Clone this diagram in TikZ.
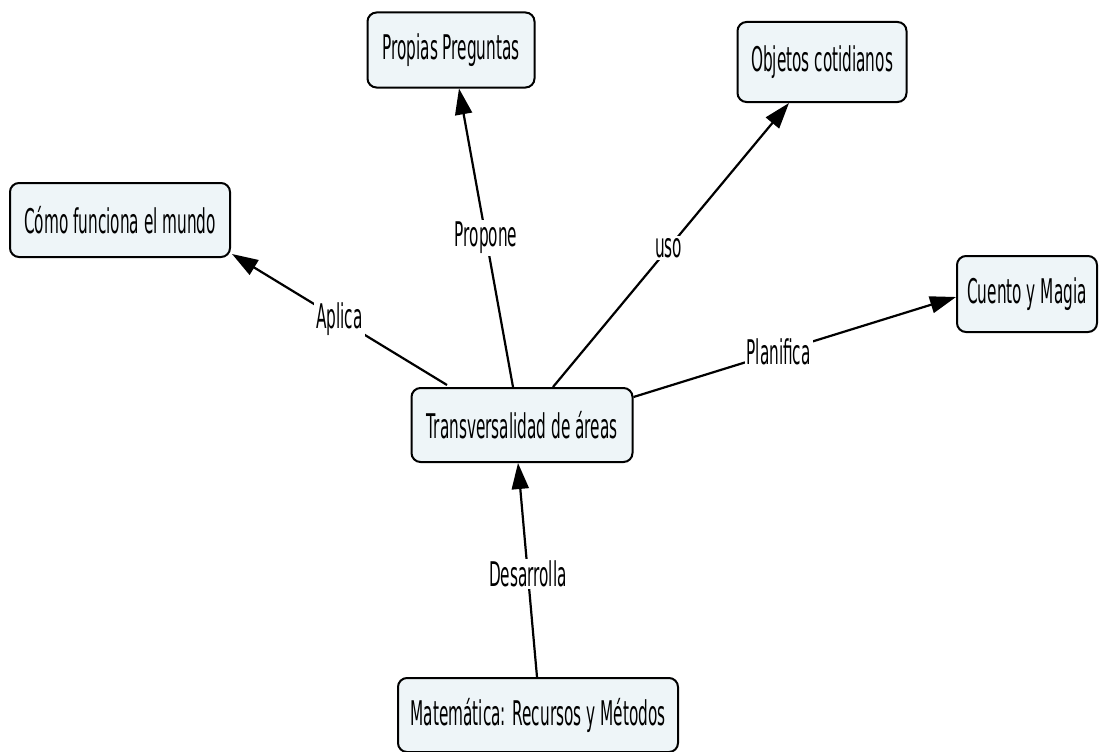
\documentclass[tikz,border=0pt]{standalone}
\usepackage{fontspec}
\setmainfont[FakeStretch=0.45]{DejaVu Sans}
\usetikzlibrary{arrows.meta,calc}
\definecolor{boxfill}{HTML}{EEF5F8}
\tikzset{
  concept/.style={draw=black, line width=2pt, rounded corners=9pt, fill=boxfill,
    inner sep=0pt, align=center, font=\fontsize{34}{38}\selectfont},
  link/.style={line width=2.2pt, -{Triangle[length=26pt,width=17pt]}},
  lbl/.style={fill=white, inner sep=2pt, font=\fontsize{34}{38}\selectfont}
}
\begin{document}
\begin{tikzpicture}[x=1pt, y=-1pt]
  \useasboundingbox (0,0) rectangle (1100,752);
  % concepts
  \node[concept, minimum width=167pt, minimum height=75pt] (prop) at (451,50) {Propias Preguntas};
  \node[concept, minimum width=169pt, minimum height=80pt] (obj) at (822,62) {Objetos cotidianos};
  \node[concept, minimum width=220pt, minimum height=74pt] (mundo) at (120,220) {Cómo funciona el mundo};
  \node[concept, minimum width=140pt, minimum height=76pt] (cuento) at (1027,294) {Cuento y Magia};
  \node[concept, minimum width=221pt, minimum height=74pt] (trans) at (522,425) {Transversalidad de áreas};
  \node[concept, minimum width=280pt, minimum height=74pt] (mat) at (538,715) {Matemática: Recursos y Métodos};
  % links (shifts are in canvas units: positive yshift points up)
  \draw[link] ([xshift=-9pt]trans.north) -- node[lbl, pos=0.5] (l1) {Propone} ([xshift=8pt]prop.south);
  \draw[link] ([xshift=31pt]trans.north) -- node[lbl, pos=0.49] (l2) {uso} ([xshift=-33pt]obj.south);
  \draw[link] ([xshift=-75pt,yshift=2pt]trans.north) -- node[lbl, pos=0.5] (l3) {Aplica} ([xshift=1pt,yshift=4pt]mundo.south east);
  \draw[link] ([yshift=28pt]trans.east) -- node[lbl, pos=0.45] (l4) {Planifica} ([yshift=-3pt]cuento.west);
  \draw[link] ([xshift=-1pt]mat.north) -- node[lbl, pos=0.48] (l5) {Desarrolla} ([xshift=-4pt]trans.south);
\end{tikzpicture}
\end{document}
